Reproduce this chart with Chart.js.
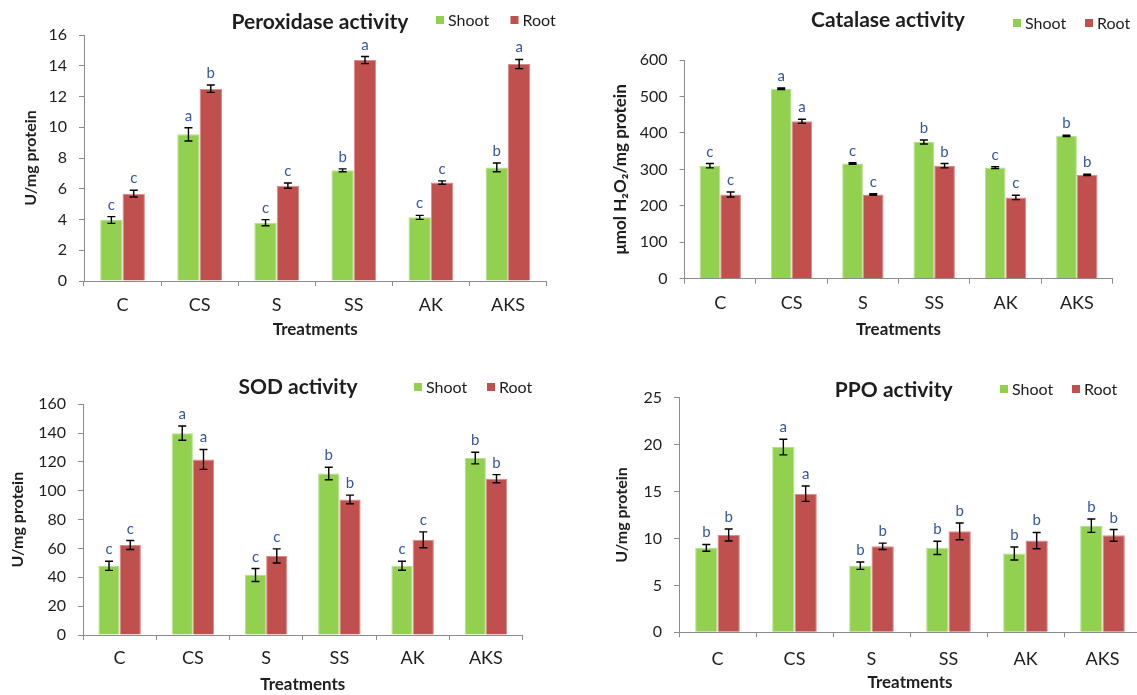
<!DOCTYPE html>
<html><head><meta charset="utf-8">
<script src="https://cdn.jsdelivr.net/npm/chart.js@4.4.1/dist/chart.umd.min.js"></script>
<style>
html,body{margin:0;padding:0;background:#fff;overflow:hidden;width:1137px;height:695px;position:relative;}
canvas{position:absolute;}
</style></head><body>
<canvas id="c1" width="570" height="345" style="left:0;top:0"></canvas>
<canvas id="c2" width="567" height="345" style="left:570px;top:0"></canvas>
<canvas id="c3" width="570" height="340" style="left:0;top:355px"></canvas>
<canvas id="c4" width="600" height="340" style="left:570px;top:355px"></canvas>
<script>
// ---------- data ----------
const categories = ['C', 'CS', 'S', 'SS', 'AK', 'AKS'];
const seriesNames = ['Shoot', 'Root'];

const peroxShoot = [3.97, 9.54, 3.79, 7.2, 4.14, 7.39];
const peroxRoot = [5.68, 12.51, 6.2, 14.37, 6.4, 14.11];
const peroxShootErr = [0.22, 0.43, 0.2, 0.09, 0.13, 0.28];
const peroxRootErr = [0.22, 0.24, 0.17, 0.23, 0.11, 0.3];
const peroxShootLetters = ['c', 'a', 'c', 'b', 'c', 'b'];
const peroxRootLetters = ['c', 'b', 'c', 'a', 'c', 'a'];
const peroxTicks = [0, 2, 4, 6, 8, 10, 12, 14, 16];

const catShoot = [310, 521, 316, 375, 305, 392];
const catRoot = [231, 432, 231, 310, 223, 285];
const catShootErr = [6, 2, 2, 5.5, 2.5, 2];
const catRootErr = [7, 5.5, 2, 6, 6, 2];
const catShootLetters = ['c', 'a', 'c', 'b', 'c', 'b'];
const catRootLetters = ['c', 'a', 'c', 'b', 'c', 'b'];
const catTicks = [0, 100, 200, 300, 400, 500, 600];

const sodShoot = [48, 140, 41.6, 112, 48, 122.7];
const sodRoot = [62.4, 121.8, 54.8, 94, 66, 108.4];
const sodShootErr = [3.2, 4.9, 4.5, 4.3, 3.1, 4];
const sodRootErr = [3.1, 6.9, 4.9, 3, 5.5, 2.8];
const sodShootLetters = ['c', 'a', 'c', 'b', 'c', 'b'];
const sodRootLetters = ['c', 'a', 'c', 'b', 'c', 'b'];
const sodTicks = [0, 20, 40, 60, 80, 100, 120, 140, 160];

const ppoShoot = [9.0, 19.74, 7.1, 9.0, 8.4, 11.36];
const ppoRoot = [10.37, 14.77, 9.16, 10.76, 9.77, 10.33];
const ppoShootErr = [0.36, 0.83, 0.39, 0.71, 0.69, 0.71];
const ppoRootErr = [0.64, 0.82, 0.34, 0.89, 0.87, 0.62];
const ppoShootLetters = ['b', 'a', 'b', 'b', 'b', 'b'];
const ppoRootLetters = ['b', 'a', 'b', 'b', 'b', 'b'];
const ppoTicks = [0, 5, 10, 15, 20, 25];

// ---------- style ----------
const GREEN = '#92D050', RED = '#C0504D';
const AXIS = '#8C8C8C', TEXT = '#1E1E1E', LETTER = '#3456A3';
const FONT = 'Lato, "Open Sans", sans-serif';
Chart.defaults.font.family = FONT;
Chart.defaults.color = TEXT;

const errorBarPlugin = {
  id: 'errorBars',
  afterDatasetsDraw(chart) {
    const ctx = chart.ctx, ys = chart.scales.y;
    chart.data.datasets.forEach((ds, di) => {
      const meta = chart.getDatasetMeta(di);
      meta.data.forEach((bar, i) => {
        const v = ds.data[i], e = ds.err[i];
        const yT = ys.getPixelForValue(v + e), yB = ys.getPixelForValue(v - e);
        ctx.save();
        ctx.strokeStyle = '#000'; ctx.lineWidth = 1.4;
        ctx.beginPath();
        ctx.moveTo(bar.x, yT); ctx.lineTo(bar.x, yB);
        ctx.moveTo(bar.x - 4, yT); ctx.lineTo(bar.x + 4, yT);
        ctx.moveTo(bar.x - 4, yB); ctx.lineTo(bar.x + 4, yB);
        ctx.stroke();
        ctx.fillStyle = LETTER;
        ctx.font = '15px ' + FONT;
        ctx.textAlign = 'center'; ctx.textBaseline = 'alphabetic';
        ctx.fillText(ds.letters[i], bar.x, yT - 7);
        ctx.restore();
      });
    });
  }
};

const headerPlugin = {
  id: 'header',
  afterDraw(chart, args, o) {
    const ctx = chart.ctx;
    ctx.save();
    ctx.fillStyle = TEXT;
    ctx.font = 'bold 21px ' + FONT;
    ctx.textAlign = 'center'; ctx.textBaseline = 'middle';
    ctx.fillText(o.text, o.tx, o.ty);
    ctx.font = '16px ' + FONT;
    ctx.textAlign = 'left';
    chart.data.datasets.forEach((ds, i) => {
      const x = o.lx[i];
      ctx.fillStyle = ds.backgroundColor;
      ctx.fillRect(x - 4, o.ly - 4, 8, 8);
      ctx.fillStyle = TEXT;
      ctx.fillText(ds.label, x + 8, o.ly + 1);
    });
    ctx.restore();
  }
};

function makeChart(id, p) {
  return new Chart(document.getElementById(id), {
    type: 'bar',
    data: {
      labels: categories,
      datasets: [
        { label: seriesNames[0], data: p.shoot, err: p.shootErr, letters: p.shootL,
          backgroundColor: GREEN, borderColor: '#B5E08A', borderWidth: 1, borderSkipped: 'bottom' },
        { label: seriesNames[1], data: p.root, err: p.rootErr, letters: p.rootL,
          backgroundColor: RED, borderColor: '#D98C8A', borderWidth: 1, borderSkipped: 'bottom' }
      ]
    },
    options: {
      responsive: false, animation: false,
      categoryPercentage: 0.58, barPercentage: 1.0,
      layout: { padding: { top: p.top, right: p.right, left: 0, bottom: 0 } },
      plugins: {
        legend: { display: false }, tooltip: { enabled: false },
        header: { text: p.title, tx: p.tx, ty: p.ty, lx: p.lx, ly: p.ly }
      },
      scales: {
        x: {
          grid: { display: true, offset: true, drawOnChartArea: false, drawTicks: true, tickLength: 5, color: AXIS },
          border: { display: true, color: AXIS, width: 1 },
          ticks: { font: { size: 18 }, color: TEXT, padding: p.xpad - 1.2, maxRotation: 0 },
          title: { display: true, text: 'Treatments', font: { size: 17, weight: 'bold' }, color: TEXT,
                   padding: { top: 0, bottom: Math.max(0, p.xtb - 0.6) } },
          afterFit: s => { s.height = p.xh; }
        },
        y: {
          min: 0, max: p.ticks[p.ticks.length - 1],
          afterBuildTicks: s => { s.ticks = p.ticks.map(v => ({ value: v })); },
          grid: { display: true, drawOnChartArea: false, drawTicks: true, tickLength: 5, color: AXIS },
          border: { display: true, color: AXIS, width: 1 },
          ticks: { font: { size: 16 }, color: TEXT, padding: 12 },
          title: { display: true, text: p.ytitle, font: { size: p.yfs, weight: 'bold' }, color: TEXT,
                   padding: { top: p.ytp, bottom: 0 } },
          afterFit: s => { s.width = p.yw; }
        }
      }
    },
    plugins: [errorBarPlugin, headerPlugin]
  });
}

makeChart('c1', {
  shoot: peroxShoot, root: peroxRoot, shootErr: peroxShootErr, rootErr: peroxRootErr,
  shootL: peroxShootLetters, rootL: peroxRootLetters, ticks: peroxTicks,
  title: 'Peroxidase activity', tx: 320, ty: 22, lx: [440, 514.5], ly: 20,
  ytitle: 'U/mg protein', yfs: 16, ytp: 21.4, yw: 84, xh: 64, top: 35, right: 23.5, xpad: 9.4, xtb: 5.4
});
makeChart('c2', {
  shoot: catShoot, root: catRoot, shootErr: catShootErr, rootErr: catRootErr,
  shootL: catShootLetters, rootL: catRootLetters, ticks: catTicks,
  title: 'Catalase activity', tx: 318, ty: 20, lx: [447, 519], ly: 23,
  ytitle: 'μmol H₂O₂/mg protein', yfs: 17, ytp: 40.4, yw: 114.6, xh: 66.3, top: 60, right: 24.5, xpad: 9.7, xtb: 5.4
});
makeChart('c3', {
  shoot: sodShoot, root: sodRoot, shootErr: sodShootErr, rootErr: sodRootErr,
  shootL: sodShootLetters, rootL: sodRootLetters, ticks: sodTicks,
  title: 'SOD activity', tx: 298, ty: 32, lx: [418, 491], ly: 32,
  ytitle: 'U/mg protein', yfs: 16, ytp: 8.4, yw: 83, xh: 60, top: 49.3, right: 47.5, xpad: 8.4, xtb: 0.6
});
makeChart('c4', {
  shoot: ppoShoot, root: ppoRoot, shootErr: ppoShootErr, rootErr: ppoRootErr,
  shootL: ppoShootLetters, rootL: ppoRootLetters, ticks: ppoTicks,
  title: 'PPO activity', tx: 323.7, ty: 35, lx: [434, 506], ly: 34,
  ytitle: 'U/mg protein', yfs: 16, ytp: 42.4, yw: 109, xh: 62.7, top: 42.7, right: 29, xpad: 12, xtb: 2.4
});
</script>
</body></html>
